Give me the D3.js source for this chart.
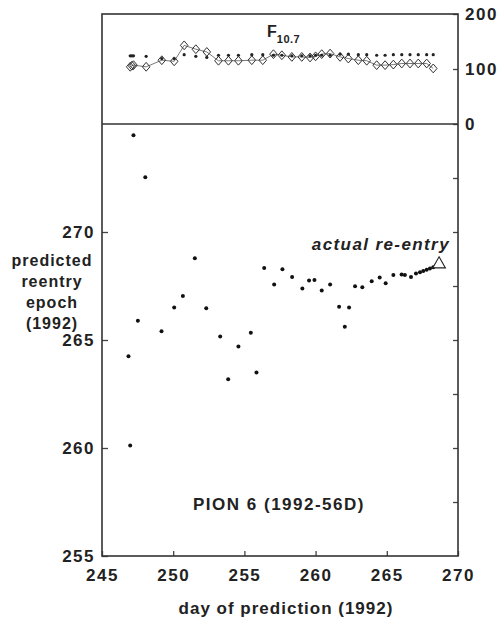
<!DOCTYPE html>
<html lang="en">
<head>
  <meta charset="UTF-8">
  <title>PION 6 reentry predictions</title>
  <script src="https://d3js.org/d3.v7.min.js"></script>
  <style>
    body { margin: 0; background: #fff; }
    text { font-family: "Liberation Sans", Arial, sans-serif; font-weight: bold; fill: #222; }
  </style>
</head>
<body>
<div class="main"></div>
<script>
  // predicted reentry epoch vs day of prediction
  const predDay = [246.86, 246.98, 247.21, 247.52, 248.04, 249.18, 250.07, 250.68, 251.52, 252.32,
    253.30, 253.86, 254.58, 255.45, 255.85, 256.39, 257.09, 257.67, 258.35, 259.07,
    259.54, 259.92, 260.43, 261.02, 261.65, 262.05, 262.35, 262.77, 263.28, 263.94,
    264.50, 264.92, 265.46, 266.04, 266.27, 266.70, 267.05, 267.33, 267.56, 267.80,
    268.03, 268.26];
  const predEpoch = [264.25, 260.11, 274.48, 265.89, 272.53, 265.41, 266.50, 267.04, 268.79, 266.47,
    265.16, 263.18, 264.70, 265.33, 263.50, 268.33, 267.57, 268.27, 267.92, 267.38,
    267.75, 267.78, 267.29, 267.57, 266.54, 265.61, 266.50, 267.49, 267.44, 267.72,
    267.89, 267.63, 268.01, 268.03, 268.01, 267.92, 268.08, 268.14, 268.20, 268.25,
    268.31, 268.37];

  const reentryDay = 268.67;
  const reentryEpoch = 268.51;

  // F10.7 solar flux: daily (diamonds) and mean (dots)
  const fluxDay = [246.98, 247.10, 247.21, 248.10, 249.20, 250.07, 250.77, 251.59, 252.36, 253.18,
    253.88, 254.58, 255.52, 256.29, 257.04, 257.63, 258.33, 259.03, 259.61, 260.00,
    260.43, 261.02, 261.72, 262.30, 263.00, 263.59, 264.29, 264.88, 265.46, 266.05,
    266.63, 267.21, 267.80, 268.26];
  const fluxDaily = [104, 106, 107, 104, 116, 114, 143, 136, 131, 115,
    115, 115, 116, 116, 127, 125, 122, 122, 121, 123,
    127, 128, 122, 119, 116, 115, 107, 107, 108, 110,
    110, 110, 110, 101];
  const fluxMean = [124, 124, 124, 123, 119, 119, 126, 123, 121, 125,
    125, 125, 126, 126, 125, 125, 124, 124, 124, 125,
    125, 125, 127, 127, 126, 126, 125, 125, 126, 126,
    126, 126, 126, 126];

  const xTicks = [245, 250, 255, 260, 265, 270];
  const yTicks = [255, 260, 265, 270];
  const yMinorTicks = [257.5, 260, 262.5, 265, 267.5, 270, 272.5];
  const fluxTicks = [0, 100, 200];

  let width = 504, height = 620;
  let pLeft = 102, pRight = 458, pTop = 14, pMid = 124, pBottom = 556;

  let svg = d3.select(".main").append("svg").attr("width", width).attr("height", height).style("display", "block");

  let x = d3.scaleLinear().domain([245, 270]).range([pLeft, pRight]);
  let y = d3.scaleLinear().domain([255, 275]).range([pBottom, pMid]);
  let yF = d3.scaleLinear().domain([0, 200]).range([pMid, pTop]);

  // axes (ticks point inward)
  let gx = svg.append("g").attr("transform", `translate(0,${pBottom})`)
    .call(d3.axisBottom(x).tickValues(xTicks).tickSize(-5).tickPadding(13).tickFormat(d3.format("d")));
  let gy = svg.append("g").attr("transform", `translate(${pLeft},0)`)
    .call(d3.axisLeft(y).tickValues(yTicks).tickSize(-6).tickPadding(7).tickFormat(d3.format("d")));
  let gyr = svg.append("g").attr("transform", `translate(${pRight},0)`)
    .call(d3.axisRight(y).tickValues(yMinorTicks).tickSize(-5).tickFormat(""));
  let gf = svg.append("g").attr("transform", `translate(${pRight},0)`)
    .call(d3.axisRight(yF).tickValues(fluxTicks).tickSize(-5).tickPadding(7));

  [gx, gy, gyr, gf].forEach(g => {
    g.select(".domain").remove();
    g.selectAll("line").attr("stroke", "#444").attr("stroke-width", 1.3);
    g.selectAll("text").attr("font-size", 17).attr("letter-spacing", 1.5)
      .attr("font-family", "Liberation Sans, Arial, sans-serif").attr("font-weight", "bold").attr("fill", "#222");
  });

  // frame and panel divider
  svg.append("rect").attr("x", pLeft).attr("y", pTop).attr("width", pRight - pLeft).attr("height", pBottom - pTop)
    .attr("fill", "none").attr("stroke", "#333").attr("stroke-width", 1.6);
  svg.append("line").attr("x1", pLeft).attr("x2", pRight).attr("y1", pMid).attr("y2", pMid)
    .attr("stroke", "#333").attr("stroke-width", 1.4);

  // flux panel
  let fluxPts = fluxDay.map((d, i) => [d, fluxDaily[i], fluxMean[i]]);
  svg.append("path").datum(fluxPts)
    .attr("d", d3.line().x(d => x(d[0])).y(d => yF(d[1])))
    .attr("fill", "none").attr("stroke", "#555").attr("stroke-width", 0.8);
  svg.selectAll(".mean").data(fluxPts).enter().append("circle")
    .attr("cx", d => x(d[0])).attr("cy", d => yF(d[2])).attr("r", 1.6).attr("fill", "#222");
  svg.selectAll(".dia").data(fluxPts).enter().append("path")
    .attr("transform", d => `translate(${x(d[0])},${yF(d[1])})`)
    .attr("d", "M0,-4.4L3.8,0L0,4.4L-3.8,0Z")
    .attr("fill", "none").attr("stroke", "#333").attr("stroke-width", 1);

  let fLabel = svg.append("text").attr("x", 267).attr("y", 37).attr("font-size", 16);
  fLabel.append("tspan").text("F");
  fLabel.append("tspan").attr("font-size", 11).attr("dy", 6).attr("letter-spacing", 0.5).text("10.7");

  // predictions
  svg.selectAll(".pred").data(predDay).enter().append("circle")
    .attr("cx", (d, i) => x(d)).attr("cy", (d, i) => y(predEpoch[i])).attr("r", 2).attr("fill", "#111");

  svg.append("path")
    .attr("transform", `translate(${x(reentryDay)},${y(reentryEpoch)})`)
    .attr("d", d3.symbol(d3.symbolTriangle, 70)())
    .attr("fill", "#fff").attr("stroke", "#222").attr("stroke-width", 1.1);

  svg.append("text").attr("x", 450).attr("y", 250).attr("text-anchor", "end").attr("font-size", 17)
    .attr("font-style", "italic").attr("letter-spacing", 1.4).text("actual re-entry");

  svg.append("text").attr("x", 279).attr("y", 510).attr("text-anchor", "middle").attr("font-size", 17)
    .attr("letter-spacing", 1.5).text("PION 6 (1992-56D)");

  // axis titles
  let ylab = ["predicted", "reentry", "epoch", "(1992)"];
  for (let i = 0; i < ylab.length; i++) {
    svg.append("text").attr("x", 52).attr("y", 266 + i * 21).attr("text-anchor", "middle")
      .attr("font-size", 16).attr("letter-spacing", 1).text(ylab[i]);
  }
  svg.append("text").attr("x", 286).attr("y", 614).attr("text-anchor", "middle").attr("font-size", 17)
    .attr("letter-spacing", 1).text("day of prediction (1992)");
</script>
</body>
</html>
